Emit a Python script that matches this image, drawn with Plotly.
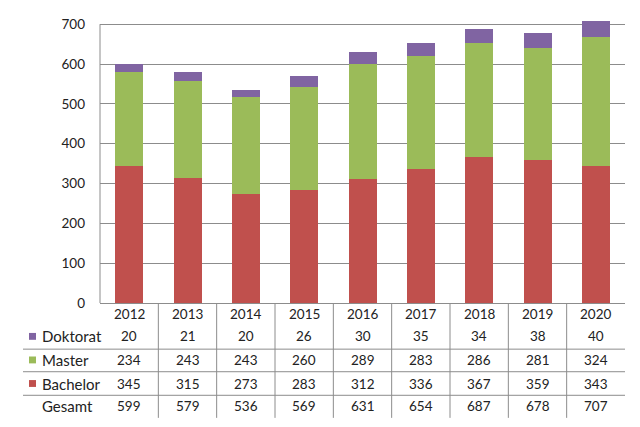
import plotly.graph_objects as go

years = ["2012", "2013", "2014", "2015", "2016", "2017", "2018", "2019", "2020"]
doktorat = [20, 21, 20, 26, 30, 35, 34, 38, 40]
master = [234, 243, 243, 260, 289, 283, 286, 281, 324]
bachelor = [345, 315, 273, 283, 312, 336, 367, 359, 343]
gesamt = [599, 579, 536, 569, 631, 654, 687, 678, 707]

series = [
    ("Bachelor", bachelor, "#C0504D"),
    ("Master", master, "#9BBB59"),
    ("Doktorat", doktorat, "#8064A2"),
]

OFF = 8  # page body margin
W, H = 640 - OFF, 427 - OFF
# design coordinates (page pixels): plot x 100..625, y(0)=303, y(700)=19
X0, X1 = 100, 625
Y0, Y700 = 303, 19
YMAX = 708
PPU = (Y0 - Y700) / 700.0
YTOP = Y0 - PPU * YMAX
L = X0 - OFF
R = W - (X1 - OFF)
T = YTOP - OFF
B = H - (Y0 - OFF)
PW = X1 - X0
PH = Y0 - YTOP
FONT = "Lato, Liberation Sans, sans-serif"
GRID = "#8C8C8C"
TXT = "#222222"
NUMSZ = 13.5
LBLSZ = 15

def py(p):
    return (Y0 - p) / PH

def px(p):
    return (p - X0) / PW

fig = go.Figure()
xs = list(range(len(years)))
for name, vals, col in series:
    fig.add_trace(go.Bar(x=xs, y=vals, name=name, marker=dict(color=col, line=dict(width=0)),
                         width=0.48, showlegend=False))

shapes = []
annotations = []

rows = [
    ("Doktorat", doktorat, "#8064A2", 337),
    ("Master", master, "#9BBB59", 361),
    ("Bachelor", bachelor, "#C0504D", 385),
    ("Gesamt", gesamt, None, 408),
]

for i, yr in enumerate(years):
    annotations.append(dict(x=i, y=py(314), xref="x", yref="paper", text=yr, showarrow=False,
                            font=dict(family=FONT, size=NUMSZ, color=TXT), xanchor="center", yanchor="middle"))

for name, vals, col, ypix in rows:
    annotations.append(dict(x=px(40), y=py(ypix), xref="paper", yref="paper", text=name, showarrow=False,
                            font=dict(family=FONT, size=LBLSZ, color=TXT), xanchor="left", yanchor="middle"))
    if col:
        shapes.append(dict(type="rect", xref="paper", yref="paper", x0=px(29), x1=px(36),
                           y0=py(ypix + 3.5), y1=py(ypix - 3.5), fillcolor=col, line=dict(width=0)))
    for i, v in enumerate(vals):
        annotations.append(dict(x=i, y=py(ypix), xref="x", yref="paper", text=str(v), showarrow=False,
                                font=dict(family=FONT, size=NUMSZ, color=TXT), xanchor="center", yanchor="middle"))

for yl in [350, 373, 397]:
    shapes.append(dict(type="line", xref="paper", yref="paper", x0=px(23), x1=1, y0=py(yl), y1=py(yl),
                       line=dict(color=GRID, width=1)))
for k in range(1, len(years)):
    shapes.append(dict(type="line", xref="x", yref="paper", x0=k - 0.5, x1=k - 0.5, y0=0, y1=py(420),
                       line=dict(color=GRID, width=1)))

fig.update_layout(
    width=W, height=H,
    margin=dict(l=L, r=R, t=T, b=B, pad=0),
    barmode="stack",
    plot_bgcolor="white", paper_bgcolor="white",
    font=dict(family=FONT, size=NUMSZ, color=TXT),
    shapes=shapes, annotations=annotations,
    xaxis=dict(range=[-0.5, len(years) - 0.5], showticklabels=False, showgrid=False, zeroline=False,
               showline=True, linecolor=GRID, linewidth=1, ticks=""),
    yaxis=dict(range=[0, YMAX], tickvals=[0, 100, 200, 300, 400, 500, 600, 700], showgrid=True,
               gridcolor=GRID, gridwidth=1, zeroline=False,
               showline=False, ticks="", ticklabelstandoff=14,
               tickfont=dict(family=FONT, size=NUMSZ, color=TXT)),
    bargap=0.52,
)
# left axis line from 0 to 700 only
shapes.append(dict(type="line", xref="paper", yref="y", x0=0, x1=0, y0=0, y1=700,
                   line=dict(color=GRID, width=1)))
fig.update_layout(shapes=shapes)

fig.write_html("out.html")
